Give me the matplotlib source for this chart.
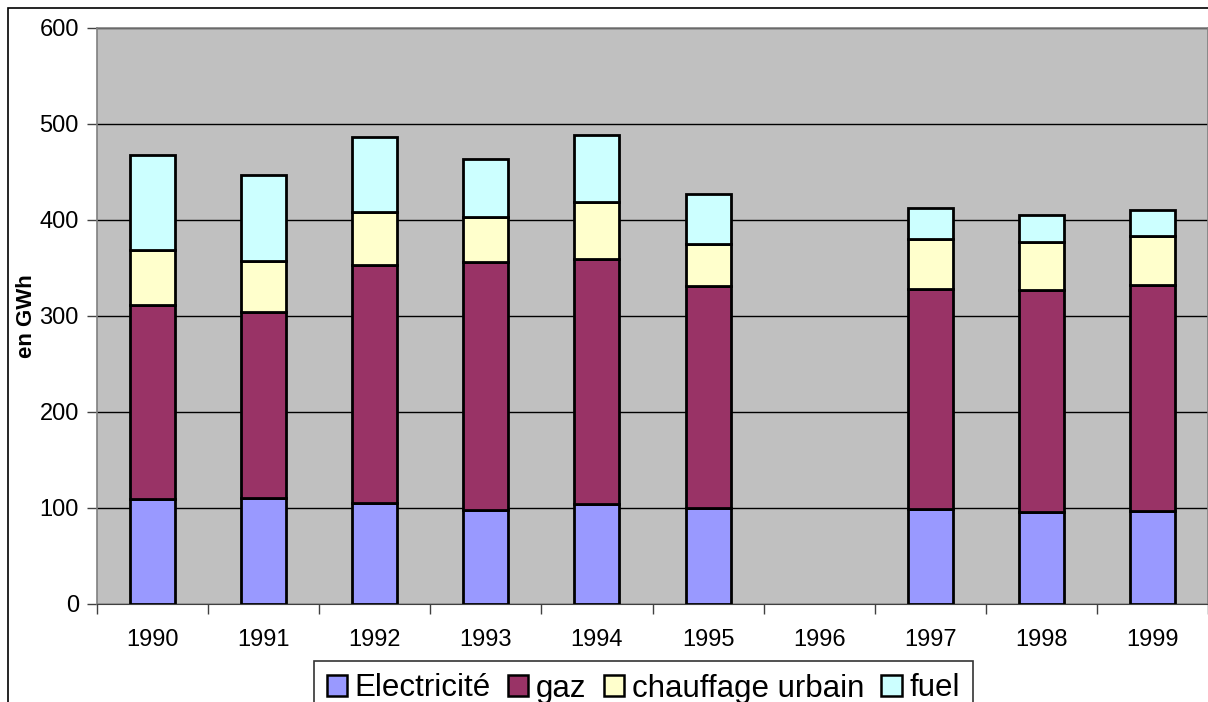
import numpy as np
import matplotlib
matplotlib.use("Agg")
import matplotlib.pyplot as plt
from matplotlib.patches import Rectangle

plt.rcParams['font.family'] = ['Liberation Sans', 'DejaVu Sans']

########## data ##########
annees = ['1990', '1991', '1992', '1993', '1994', '1995', '1996', '1997', '1998', '1999']
electricite = [109, 110.7, 105.5, 97.6, 104, 100, np.nan, 99.3, 95.5, 97.2]
gaz = [202.5, 193.8, 247.5, 259, 255.4, 231.6, np.nan, 229.2, 231.6, 234.8]
chauffage = [57.3, 52.8, 55, 46.9, 59.6, 43.1, np.nan, 51.7, 49.7, 51.3]
fuel = [99.2, 89.3, 78.8, 60, 69.5, 52.1, np.nan, 32, 28.1, 26.8]

series = [('Electricité', electricite, '#9999FF'),
          ('gaz', gaz, '#993366'),
          ('chauffage urbain', chauffage, '#FFFFCC'),
          ('fuel', fuel, '#CCFFFF')]

########## figure ##########
W, H = 1208, 702
fig = plt.figure(figsize=(W/100, H/100), dpi=100)
fig.patch.set_facecolor('white')
ax = fig.add_axes([97/W, (H-604)/H, 1111/W, 576/H])
ax.set_facecolor('#C0C0C0')

x = np.arange(len(annees))
ok = ~np.isnan(np.array(electricite))
bottom = np.zeros(len(annees))
for nom, vals, col in series:
	v = np.array(vals, dtype=float)
	ax.bar(x[ok], v[ok], bottom=bottom[ok], width=0.405, color=col,
		edgecolor='black', linewidth=2, label=nom, zorder=3)
	bottom = bottom + np.nan_to_num(v)

ax.set_xlim(-0.5, len(annees)-0.5)
ax.set_ylim(0, 600)
ax.set_yticks(range(0, 601, 100))
ax.yaxis.grid(True, color='black', linewidth=1)
ax.set_axisbelow(True)

ax.set_xticks(x)
ax.set_xticklabels(annees)
ax.set_xticks(np.arange(-0.5, len(annees), 1), minor=True)
ax.tick_params(axis='x', which='major', length=0, pad=18, labelsize=17)
ax.tick_params(axis='x', which='minor', length=7, width=1, color='#404040')
ax.tick_params(axis='y', length=7, width=1, color='#404040', pad=6, labelsize=17)

for s in ['top', 'left', 'right']:
	ax.spines[s].set_color('#808080')
	ax.spines[s].set_linewidth(1.2)
ax.spines['bottom'].set_color('#404040')

ax.set_ylabel('en GWh', fontsize=16, fontweight='bold')
ax.yaxis.set_label_coords(-60/1111, 0.5)

# outer chart border
fig.patches.append(Rectangle((8/W, -0.2), 2, (H-8)/H + 0.2, transform=fig.transFigure,
	fill=False, edgecolor='black', linewidth=1.2))

leg = fig.legend(loc='upper left', bbox_to_anchor=(314/W, 1-661/H), ncol=4,
	fontsize=22.5, frameon=True, fancybox=False, edgecolor='black',
	handlelength=0.65, handleheight=0.65, handletextpad=0.25, columnspacing=0.55,
	borderpad=0.4, borderaxespad=0)
leg.get_frame().set_linewidth(1.2)
for h in leg.legend_handles:
	h.set_linewidth(1.8)

fig.savefig('out.png', dpi=100)
